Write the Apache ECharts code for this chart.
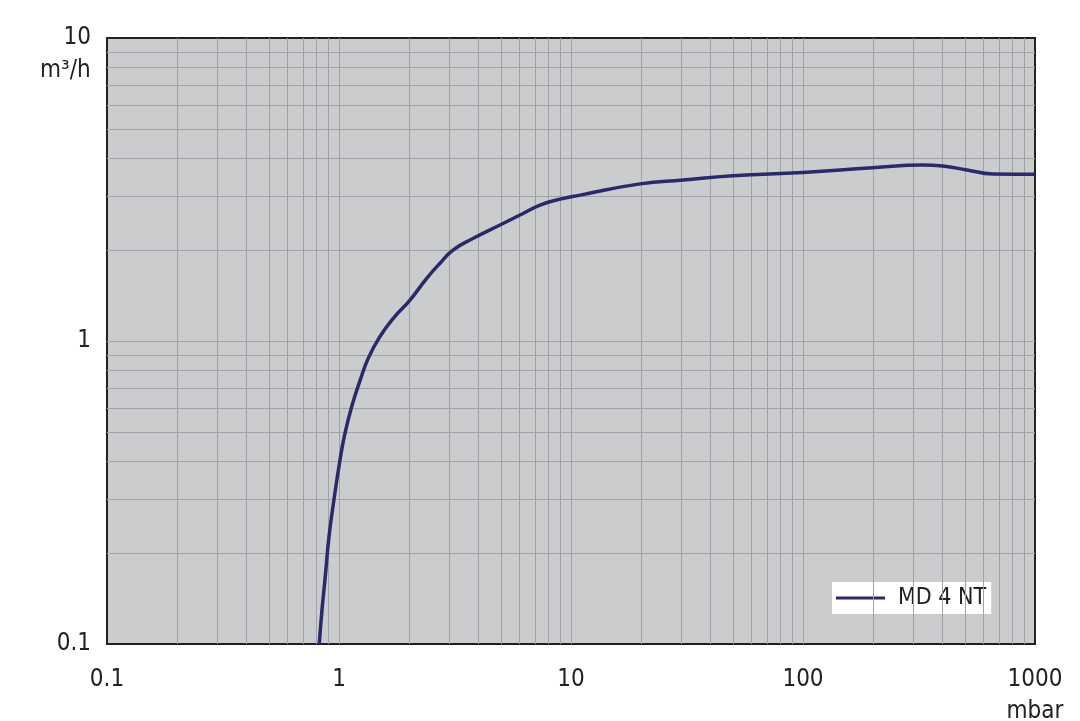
<!DOCTYPE html>
<html>
<head>
<meta charset="utf-8">
<script src="https://cdn.jsdelivr.net/npm/echarts@6/dist/echarts.min.js"></script>
<style>
html,body{margin:0;padding:0;background:#fff;}
#chart{width:1080px;height:721px;}
</style>
</head>
<body>
<div id="chart"></div>
<script>
// Data (pressure in mbar, pumping speed in m³/h)
const seriesName = 'MD 4 NT';
const pressure = [0.822, 0.845, 0.870, 0.905, 0.951, 1.010, 1.061, 1.134, 1.232, 1.338, 1.502, 1.714, 2.023, 2.388, 2.725, 3.109, 3.793, 4.943, 6.03, 7.35, 8.97, 10.94, 19.84, 30.4, 49.9, 100, 200, 329, 401, 509, 659, 1000];
const speed = [0.1, 0.13, 0.163, 0.225, 0.299, 0.405, 0.496, 0.607, 0.740, 0.878, 1.035, 1.188, 1.365, 1.61, 1.806, 1.998, 2.183, 2.415, 2.605, 2.81, 2.94, 3.03, 3.30, 3.40, 3.51, 3.60, 3.73, 3.81, 3.78, 3.67, 3.56, 3.55];
const xTickLabels = ['0.1', '1', '10', '100', '1000'];
const yTickLabels = ['0.1', '1', '10'];
const xUnit = 'mbar';
const yUnit = 'm³/h';
const xGridValues = [];
[0.1, 1, 10, 100].forEach(d => { for (let k = 2; k <= 9; k++) xGridValues.push(+(d * k).toPrecision(3)); });
[1, 10, 100].forEach(v => xGridValues.push(v));
const yGridValues = [];
[0.1, 1].forEach(d => { for (let k = 2; k <= 9; k++) yGridValues.push(+(d * k).toPrecision(3)); });
yGridValues.push(1);

const font = '"DejaVu Sans Condensed", "DejaVu Sans", sans-serif';
const chart = echarts.init(document.getElementById('chart'));
const gridLine = { color: '#a0a2a5', width: 1, type: 'solid' };
const findLabel = (list, v) => list.find(t => Math.abs(parseFloat(t) - v) < 1e-6 * Math.max(1, v)) || String(v);
chart.setOption({
  animation: false,
  grid: { left: 107, top: 38, right: 45, bottom: 77, show: true, backgroundColor: '#cbcccd', borderColor: '#222', borderWidth: 2, containLabel: false, outerBoundsMode: 'none' },
  legend: {
    data: [{ name: seriesName, icon: 'rect' }], left: 832, top: 582, backgroundColor: '#fff', padding: [4, 5, 4, 4],
    itemWidth: 49, itemHeight: 3,
    textStyle: { fontFamily: font, fontSize: 23, color: '#222', padding: [0, 0, 0, 8], lineHeight: 24 }
  },
  xAxis: {
    type: 'log', logBase: 10, min: 0.1, max: 1000,
    axisLine: { show: false }, axisTick: { show: false }, splitLine: { show: false },
    axisLabel: {
      margin: 20, color: '#222', fontFamily: font, fontSize: 24, lineHeight: 32,
      formatter: v => { const s = findLabel(xTickLabels, v); return s === '1000' ? s + '\n' + xUnit : s; }
    }
  },
  yAxis: {
    type: 'log', logBase: 10, min: 0.1, max: 10,
    axisLine: { show: false }, axisTick: { show: false }, splitLine: { show: false },
    axisLabel: {
      margin: 16, color: '#222', fontFamily: font, fontSize: 24,
      formatter: v => findLabel(yTickLabels, v)
    }
  },
  graphic: [{
    type: 'text', left: 40, top: 59,
    style: { text: yUnit, fontFamily: font, fontSize: 24, fill: '#222', textAlign: 'left' }
  }],
  series: [{
    name: seriesName, type: 'line', smooth: 0.5, showSymbol: false, symbol: 'none',
    data: pressure.map((p, i) => [p, speed[i]]),
    lineStyle: { color: '#2a2a6b', width: 3.5 }, itemStyle: { color: '#2a2a6b' },
    z: 5,
    markLine: {
      silent: true, symbol: ['none', 'none'], label: { show: false }, lineStyle: gridLine, animation: false,
      data: xGridValues.map(v => ({ xAxis: v })).concat(yGridValues.map(v => ({ yAxis: v })))
    }
  }]
});
</script>
</body>
</html>
